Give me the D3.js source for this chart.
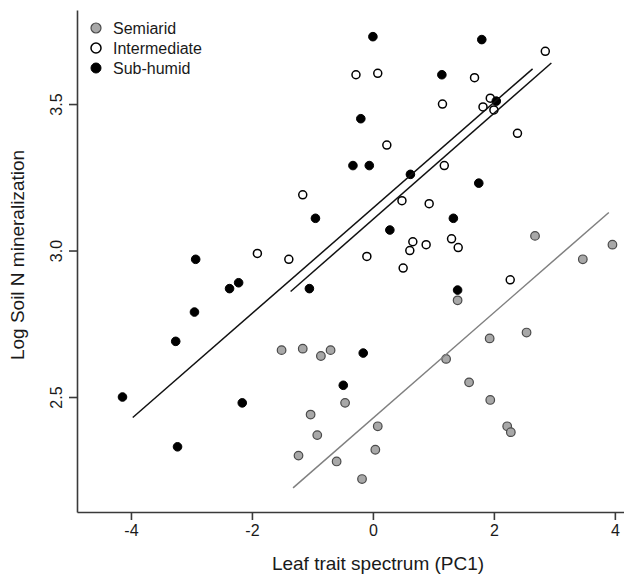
<!DOCTYPE html>
<html>
<head>
<meta charset="utf-8">
<script src="https://cdn.jsdelivr.net/npm/d3@7"></script>
<style>
  html, body { margin: 0; padding: 0; background: #fff; }
  svg { display: block; font-family: "Liberation Sans", Arial, sans-serif; }
</style>
</head>
<body>
<svg id="chart" width="624" height="576"></svg>
<script>
// ---- Data ----
const groups = ["Semiarid", "Intermediate", "Sub-humid"];

const semiaridX = [-1.51, -1.16, -0.86, -0.70, -0.46, -1.03, -0.92, -1.23, 0.08, 0.04, -0.60, -0.18,
                   1.40, 1.21, 2.68, 3.96, 3.47, 2.54, 1.93, 1.59, 1.94, 2.22, 2.28];
const semiaridY = [2.66, 2.665, 2.64, 2.66, 2.48, 2.44, 2.37, 2.30, 2.40, 2.32, 2.28, 2.22,
                   2.83, 2.63, 3.05, 3.02, 2.97, 2.72, 2.70, 2.55, 2.49, 2.40, 2.38];

const intermediateX = [2.85, -0.28, 0.08, 1.68, 1.15, 1.94, 1.82, 2.00, 2.39, 0.23, 1.18, -1.16,
                       0.48, 0.93, -1.91, -1.39, -0.10, 0.66, 0.61, 0.88, 0.50, 1.30, 1.41, 2.27];
const intermediateY = [3.68, 3.60, 3.605, 3.59, 3.50, 3.52, 3.49, 3.48, 3.40, 3.36, 3.29, 3.19,
                       3.17, 3.16, 2.99, 2.97, 2.98, 3.03, 3.00, 3.02, 2.94, 3.04, 3.01, 2.90];

const subhumidX = [0.00, 1.80, 1.14, 2.04, -0.20, -0.33, -0.06, 0.62, 1.75, -0.95, 1.33, 0.28,
                   -2.93, -2.22, -2.37, -1.05, 1.40, -2.95, -3.26, -0.16, -0.49, -4.14, -2.16, -3.23];
const subhumidY = [3.73, 3.72, 3.60, 3.51, 3.45, 3.29, 3.29, 3.26, 3.23, 3.11, 3.11, 3.07,
                   2.97, 2.89, 2.87, 2.87, 2.865, 2.79, 2.69, 2.65, 2.54, 2.50, 2.48, 2.33];

// regression line endpoints [x0, x1], [y0, y1]
const semiaridLineX = [-1.32, 3.90];
const semiaridLineY = [2.19, 3.13];
const intermediateLineX = [-1.36, 2.95];
const intermediateLineY = [2.86, 3.64];
const subhumidLineX = [-3.97, 2.64];
const subhumidLineY = [2.43, 3.62];

const xTicks = [-4, -2, 0, 2, 4];
const yTicks = [2.5, 3.0, 3.5];
const xDomain = [-4.892, 4.151];
const yDomain = [2.1075, 3.821];

const xTitle = "Leaf trait spectrum (PC1)";
const yTitle = "Log Soil N mineralization";

// ---- Layout ----
const svg = d3.select("#chart");
const mLeft = 77, mRight = 624, mTop = 10, mBottom = 512;

const x = d3.scaleLinear().domain(xDomain).range([mLeft, mRight]);
const y = d3.scaleLinear().domain(yDomain).range([mBottom, mTop]);

const axisColor = "#3a3a3a";
const textColor = "#1a1a1a";

// Axes
const xAxis = svg.append("g")
  .attr("transform", `translate(0,${mBottom})`)
  .call(d3.axisBottom(x).tickValues(xTicks).tickSize(8).tickSizeOuter(0).tickPadding(5)
        .tickFormat(d => String(d)));
xAxis.select(".domain").attr("stroke", axisColor).attr("stroke-width", 1.6);
xAxis.selectAll(".tick line").attr("stroke", axisColor).attr("stroke-width", 1.6);
xAxis.selectAll(".tick text").attr("fill", textColor).attr("font-size", 16)
  .attr("font-family", "Liberation Sans, Arial, sans-serif");

const yAxis = svg.append("g")
  .attr("transform", `translate(${mLeft},0)`)
  .call(d3.axisLeft(y).tickValues(yTicks).tickSize(8).tickSizeOuter(0).tickFormat(d3.format(".1f")));
yAxis.select(".domain").attr("stroke", axisColor).attr("stroke-width", 1.6);
yAxis.selectAll(".tick line").attr("stroke", axisColor).attr("stroke-width", 1.6);
yAxis.selectAll(".tick text")
  .attr("fill", textColor).attr("font-size", 16)
  .attr("font-family", "Liberation Sans, Arial, sans-serif")
  .attr("x", null).attr("dy", null)
  .attr("text-anchor", "middle")
  .attr("dominant-baseline", "central")
  .attr("transform", "translate(-21,0) rotate(-90)");

// Axis titles
svg.append("text")
  .attr("x", 378).attr("y", 570)
  .attr("text-anchor", "middle")
  .attr("font-size", 19).attr("fill", textColor)
  .text(xTitle);

svg.append("text")
  .attr("transform", "translate(24,255) rotate(-90)")
  .attr("text-anchor", "middle")
  .attr("font-size", 19).attr("fill", textColor)
  .text(yTitle);

// Points
const styles = {
  "Semiarid": { fill: "#a8a8a8", stroke: "#4a4a4a", sw: 1.2, r: 4.3 },
  "Intermediate": { fill: "#ffffff", stroke: "#000000", sw: 1.5, r: 4.0 },
  "Sub-humid": { fill: "#000000", stroke: "#000000", sw: 1, r: 4.3 }
};

function drawPoints(xs, ys, g) {
  const s = styles[g];
  svg.append("g").selectAll("circle")
    .data(xs.map((v, i) => [v, ys[i]]))
    .join("circle")
    .attr("cx", d => x(d[0]))
    .attr("cy", d => y(d[1]))
    .attr("r", s.r)
    .attr("fill", s.fill)
    .attr("stroke", s.stroke)
    .attr("stroke-width", s.sw);
}
drawPoints(semiaridX, semiaridY, "Semiarid");
drawPoints(intermediateX, intermediateY, "Intermediate");
drawPoints(subhumidX, subhumidY, "Sub-humid");

// Regression lines
const line = d3.line().x(d => x(d[0])).y(d => y(d[1]));
function drawLine(xs, ys, color) {
  svg.append("path")
    .datum(xs.map((v, i) => [v, ys[i]]))
    .attr("d", line)
    .attr("fill", "none")
    .attr("stroke", color)
    .attr("stroke-width", 1.5);
}
drawLine(subhumidLineX, subhumidLineY, "#111");
drawLine(intermediateLineX, intermediateLineY, "#111");
drawLine(semiaridLineX, semiaridLineY, "#808080");

// Legend
const legend = svg.append("g").attr("transform", "translate(96,28)");
groups.forEach((g, i) => {
  const s = styles[g];
  legend.append("circle")
    .attr("cx", 0).attr("cy", i * 20)
    .attr("r", 5)
    .attr("fill", s.fill).attr("stroke", s.stroke).attr("stroke-width", s.sw);
  legend.append("text")
    .attr("x", 17).attr("y", i * 20)
    .attr("dominant-baseline", "central")
    .attr("font-size", 16).attr("fill", textColor)
    .text(g);
});
</script>
</body>
</html>
